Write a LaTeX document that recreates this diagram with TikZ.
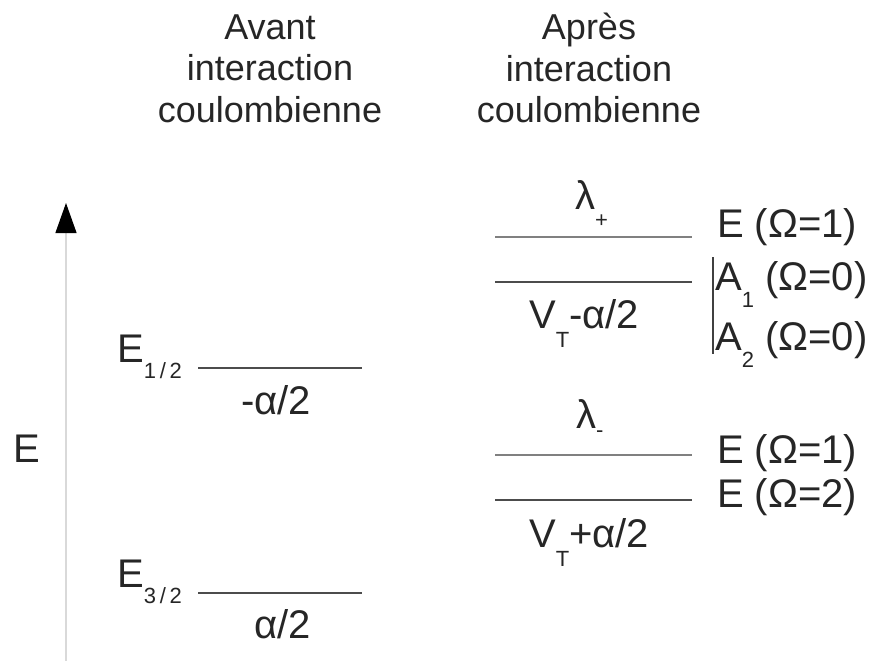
\documentclass[tikz,border=0pt]{standalone}
\usepackage{fontspec}
\setmainfont{Liberation Sans}
\usepackage{tikz}
\usetikzlibrary{arrows.meta}

\newcommand{\lowsub}[2][17pt]{\raisebox{-#1}{\fontsize{22}{22}\selectfont #2}}

\begin{document}
\begin{tikzpicture}[x=1pt,y=-1pt,
  lbl/.style={inner sep=0pt,font=\fontsize{40}{46}\selectfont,text=black!85},
  head/.style={inner sep=0pt,align=center,font=\fontsize{36}{41.5}\selectfont,text=black!85},
  level/.style={black!70,line width=1.4pt},
  upper/.style={black!50,line width=2pt}]
  \useasboundingbox (0,0) rectangle (879,661);
  % headers
  \node[head,anchor=north] (avant) at (270,14.5) {Avant\\interaction\\coulombienne};
  \node[head,anchor=north] (apres) at (589,13) {Après\\interaction\\coulombienne};
  % energy axis
  \coordinate (ax0) at (66,661);
  \coordinate (ax1) at (66,203);
  \draw[black!15,line width=1.2pt,-{Triangle[length=30pt,width=21pt,color=black]}] (ax0) -- (ax1);
  \node[lbl,anchor=base west] (eaxis) at (13,462) {E};
  % levels before interaction
  \coordinate (e1a) at (198,368);
  \coordinate (e1b) at (362,368);
  \coordinate (e3a) at (198,593);
  \coordinate (e3b) at (362,593);
  \draw[level] (e1a) -- (e1b);
  \draw[level] (e3a) -- (e3b);
  \node[lbl,anchor=base west] (e1) at (117,362) {E\lowsub[16pt]{1\,/\,2}};
  \node[lbl,anchor=base west] (e3) at (117,587) {E\lowsub[16pt]{3\,/\,2}};
  \node[lbl,anchor=base] (m1) at (276,414) {-α/2};
  \node[lbl,anchor=base] (m3) at (283,638) {α/2};
  % levels after interaction
  \coordinate (lpa) at (495,237);
  \coordinate (lpb) at (692,237);
  \coordinate (vma) at (495,282);
  \coordinate (vmb) at (692,282);
  \coordinate (lma) at (495,455);
  \coordinate (lmb) at (692,455);
  \coordinate (vpa) at (495,500);
  \coordinate (vpb) at (692,500);
  \draw[upper] (lpa) -- (lpb);
  \draw[level] (vma) -- (vmb);
  \draw[upper] (lma) -- (lmb);
  \draw[level] (vpa) -- (vpb);
  \node[lbl,anchor=base west] (lplus) at (575,209) {λ\lowsub[18pt]{+}};
  \node[lbl,anchor=base west] (lminus) at (576,428) {λ\lowsub[9pt]{-}};
  \node[lbl,anchor=base west] (vtm) at (529,328) {V\lowsub[19pt]{T}-α/2};
  \node[lbl,anchor=base west] (vtp) at (529,547) {V\lowsub[19pt]{T}+α/2};
  % symmetry labels
  \node[lbl,anchor=base west] (s1) at (717,237) {E (Ω=1)};
  \node[lbl,anchor=base west] (s2) at (715,290) {A\lowsub{1} (Ω=0)};
  \node[lbl,anchor=base west] (s3) at (715,350) {A\lowsub{2} (Ω=0)};
  \node[lbl,anchor=base west] (s4) at (717,463) {E (Ω=1)};
  \node[lbl,anchor=base west] (s5) at (717,507) {E (Ω=2)};
  \coordinate (bar0) at (713,257);
  \coordinate (bar1) at (713,354);
  \draw[black!75,line width=1.2pt] (bar0) -- (bar1);
\end{tikzpicture}
\end{document}
